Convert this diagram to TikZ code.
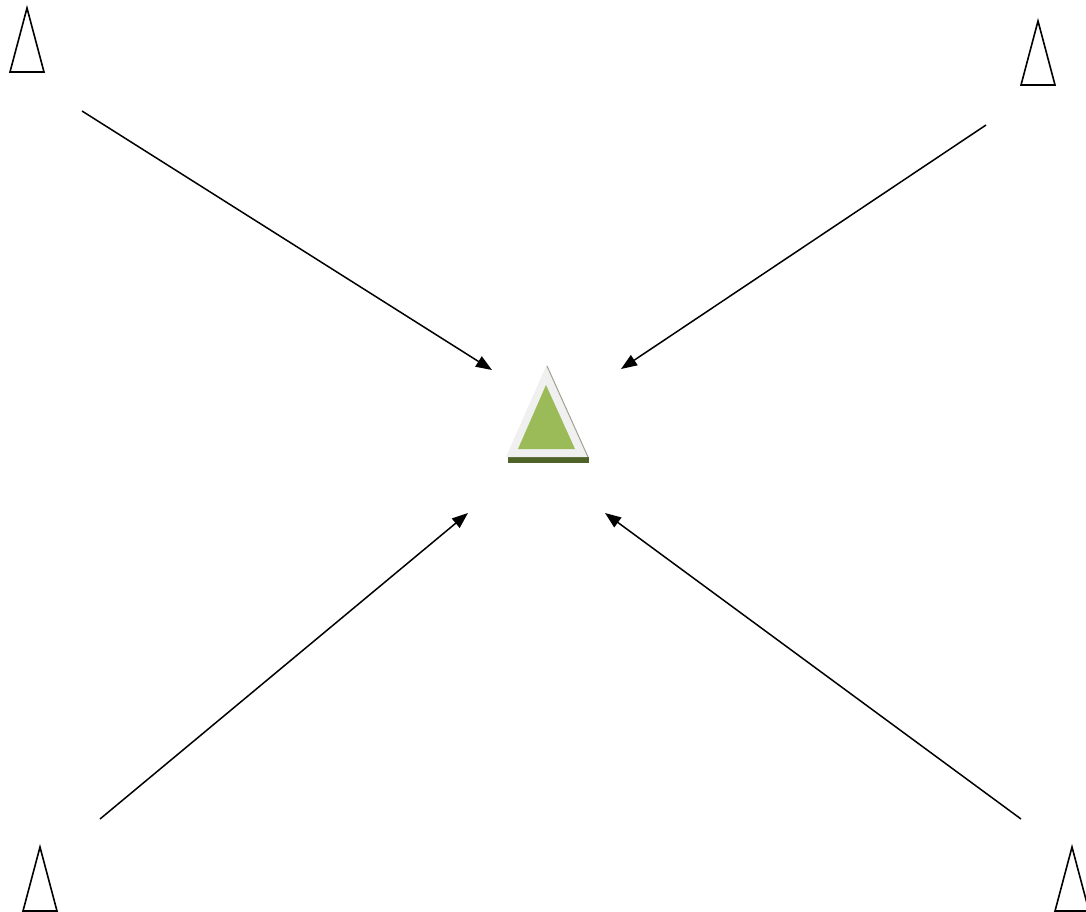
\documentclass[tikz,border=0pt]{standalone}
\usetikzlibrary{arrows.meta}
\definecolor{lightgr}{HTML}{F0F0F0}
\definecolor{leafgreen}{HTML}{9BBB59}
\definecolor{darkgreen}{HTML}{4F6228}
\definecolor{edgegr}{HTML}{A0A090}
\tikzset{
  cone/.style={draw=black, line width=1.6pt, fill=white, line join=miter},
  flow/.style={draw=black, line width=1.5pt, -{Triangle[length=16pt, width=12pt]}}
}
\begin{document}
\begin{tikzpicture}[x=1pt, y=-1pt]
\useasboundingbox (0,0) rectangle (1086,911);
% corner cones
\draw[cone] (27,8) -- (44,72) -- (10,72) -- cycle;
\draw[cone] (1038,21) -- (1055,85) -- (1021,85) -- cycle;
\draw[cone] (40,847) -- (57,911) -- (23,911) -- cycle;
\draw[cone] (1072,847) -- (1089,911) -- (1055,911) -- cycle;
% central marker
\fill[darkgreen] (508,457) rectangle (589,463);
\fill[lightgr] (546.5,365) -- (587.5,457) -- (506,457) -- cycle;
\draw[edgegr, line width=1pt] (547,366) -- (588,457);
\fill[leafgreen] (546,385) -- (575,449) -- (518,449) -- cycle;
% arrow endpoints
\coordinate (tlS) at (82,111);  \coordinate (tlE) at (492,370);
\coordinate (trS) at (986,125); \coordinate (trE) at (621,369);
\coordinate (blS) at (100,819); \coordinate (blE) at (468,513);
\coordinate (brS) at (1021,819);\coordinate (brE) at (605,513);
\draw[flow] (tlS) -- (tlE);
\draw[flow] (trS) -- (trE);
\draw[flow] (blS) -- (blE);
\draw[flow] (brS) -- (brE);
\end{tikzpicture}
\end{document}
